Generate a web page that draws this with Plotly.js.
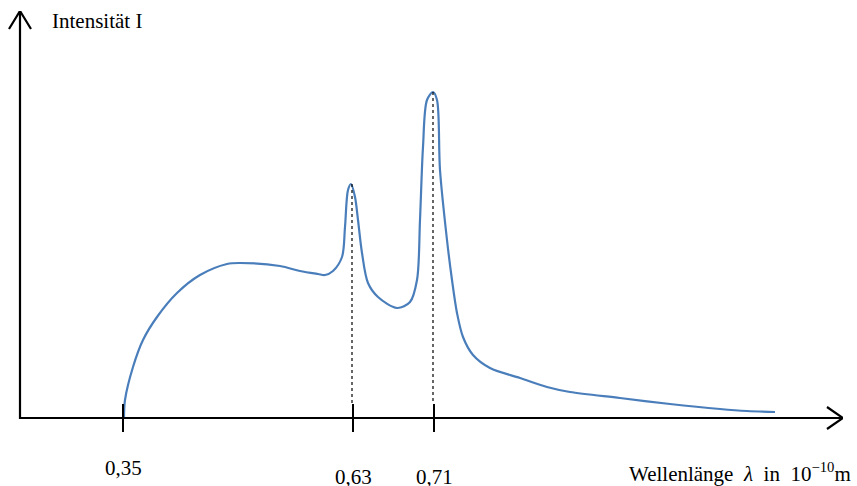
<!DOCTYPE html>
<html>
<head>
<meta charset="utf-8">
<script src="https://cdn.plot.ly/plotly-3.0.1.min.js"></script>
<style>html,body{margin:0;padding:0;background:#fff;}#chart{width:857px;height:486px;}</style>
</head>
<body>
<div id="chart"></div>
<script>
// Schematic wavelength position (arbitrary units along the drawn axis) and intensity (arbitrary units)
var waveX = [104,105,113,123,137,157,180,207,220,260,280,298,305,313,322,325,328,331,335,338,342,348,358,377,390,397,400,403,407,413,417,420,427,432,437,443,453,470,500,527,550,600,650,700,727,755];
var intens = [0,18,51,78,101,125,143,154,155,152,147,144,143,147,161,191,228,234,221,198,165,135,121,110,116,138,198,271,318,326,318,248,178,138,105,81,63,50,40,31,26,20,14,9,7,6];

// Tick marks on the wavelength axis
var tickPos = [103, 333, 414];
var tickLabels = ["0,35", "0,63", "0,71"];
var tickLabelY = [-0.085, -0.107, -0.107];   // paper units below the plot

// Characteristic peaks (dotted drop lines)
var peakX = [332, 413];
var peakY = [234, 326];

// Axis extents
var xEnd = 823, yEnd = 407;

var traces = [];

// spectrum curve
traces.push({x: waveX, y: intens, mode: 'lines', type: 'scatter',
  line: {color: '#4a7ebb', width: 2.2, shape: 'spline', smoothing: 0.9}, hoverinfo: 'skip'});

// dotted drop lines
peakX.forEach(function(px, i){
  traces.push({x: [px, px], y: [peakY[i], 14], mode: 'lines', type: 'scatter',
    line: {color: '#000', width: 1.2, dash: 'dot'}, hoverinfo: 'skip'});
});

// tick marks
var tx = [], ty = [];
tickPos.forEach(function(p){ tx.push(p, p, null); ty.push(14, -14, null); });
traces.push({x: tx, y: ty, mode: 'lines', type: 'scatter', line: {color: '#000', width: 2}, hoverinfo: 'skip'});

// axes with open arrowheads
traces.push({x: [0, 0, xEnd, null, -11, 0, 11, null, xEnd - 16, xEnd, xEnd - 16],
             y: [yEnd, 0, 0, null, yEnd - 18, yEnd, yEnd - 18, null, 11, 0, -11],
             mode: 'lines', type: 'scatter', line: {color: '#000', width: 2.2}, hoverinfo: 'skip'});

var serif = 'Liberation Serif, Times New Roman, serif';
var annotations = tickPos.map(function(p, i){
  return {x: p, y: tickLabelY[i], xref: 'x', yref: 'paper', text: tickLabels[i], showarrow: false,
    font: {family: serif, size: 21, color: '#000'}, xanchor: 'center', yanchor: 'middle'};
});
annotations.push({x: 30, y: 397, xref: 'x', yref: 'y', text: 'Intensität I', showarrow: false,
  font: {family: serif, size: 21, color: '#000'}, xanchor: 'left', yanchor: 'middle'});
annotations.push({x: 1.012, y: -0.097, xref: 'paper', yref: 'paper',
  text: 'Wellenlänge  <i>λ</i>  in  10<sup>\u221210</sup>m', showarrow: false,
  font: {family: serif, size: 21, color: '#000'}, xanchor: 'right', yanchor: 'middle'});

var layout = {
  width: 857, height: 486,
  margin: {l: 5, r: 14, t: 11, b: 54, pad: 0},
  paper_bgcolor: '#fff', plot_bgcolor: '#fff',
  showlegend: false,
  xaxis: {range: [-15, xEnd], visible: false, fixedrange: true},
  yaxis: {range: [-14, yEnd], visible: false, fixedrange: true},
  annotations: annotations
};

Plotly.newPlot('chart', traces, layout, {displayModeBar: false, staticPlot: true});
</script>
</body>
</html>
